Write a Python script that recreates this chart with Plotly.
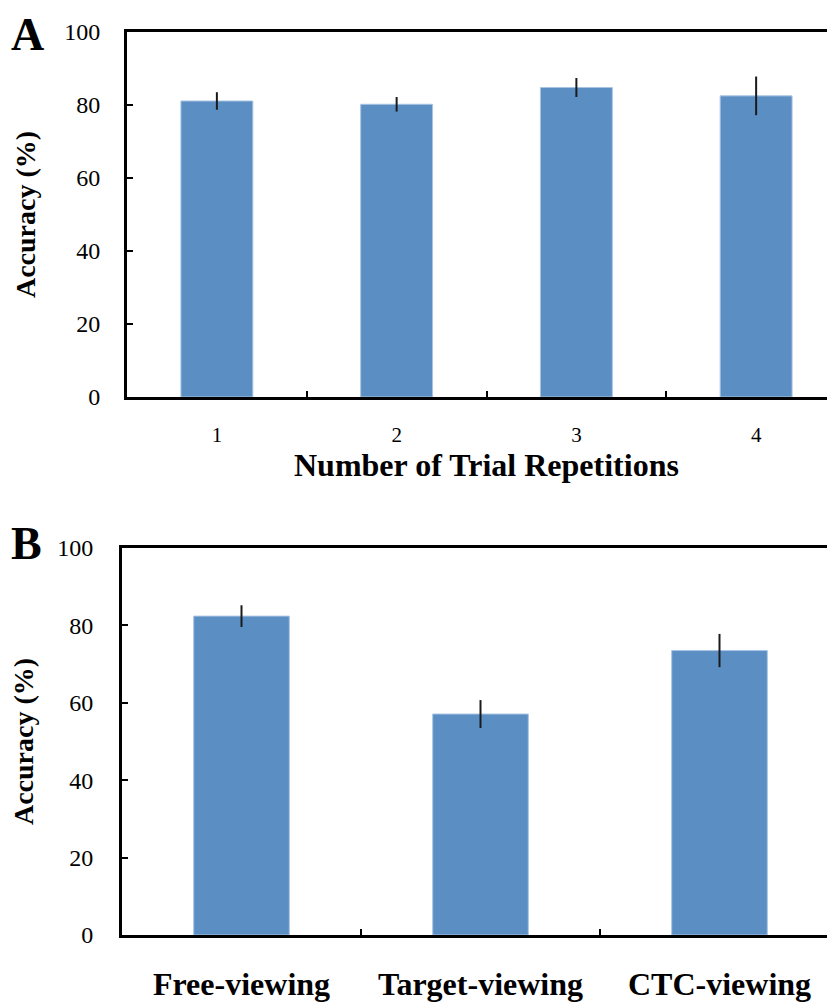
import plotly.graph_objects as go

# Panel A data
reps = ["1", "2", "3", "4"]
acc_a = [81.1, 80.2, 84.8, 82.5]
err_a = [2.4, 2.0, 2.6, 5.3]

# Panel B data
conds = ["Free-viewing", "Target-viewing", "CTC-viewing"]
acc_b = [82.4, 57.1, 73.5]
err_b = [2.8, 3.6, 4.3]

PAGE_W, PAGE_H = 835, 1002
OFF = 8  # default body margin of the html page
W, H = PAGE_W - OFF, PAGE_H - OFF
BAR = "#5b8fc4"
FONT = "Liberation Serif"

fig = go.Figure()
fig.add_trace(go.Bar(
    x=reps, y=acc_a, width=0.4, marker=dict(color=BAR, line=dict(color="#a9c4e2", width=1)),
    error_y=dict(type="data", array=err_a, color="#1a1a1a", thickness=2, width=0),
    xaxis="x", yaxis="y", showlegend=False))
fig.add_trace(go.Bar(
    x=conds, y=acc_b, width=0.4, marker=dict(color=BAR, line=dict(color="#a9c4e2", width=1)),
    error_y=dict(type="data", array=err_b, color="#1a1a1a", thickness=2, width=0),
    xaxis="x2", yaxis="y2", showlegend=False))

def px_x(p):
    return (p - OFF) / W

def px_y(p):
    return 1 - (p - OFF) / H

axis_common = dict(showgrid=False, zeroline=False, showline=True, linecolor="black",
                   linewidth=3, ticks="inside", ticklen=6, tickwidth=2, tickcolor="black",
                   automargin=False)

# Panel A: 4 categories span 127..846 px on the page; the page cuts at 835
a_left, a_right_full = 127, 846
a_span = (a_right_full - a_left) / 4
a_max = -0.5 + (PAGE_W - a_left) / a_span
fig.update_layout(
    xaxis=dict(domain=[px_x(a_left), 1], anchor="y", type="category",
               range=[-0.5, a_max], tickson="boundaries", mirror=True,
               tickfont=dict(family=FONT, size=21, color="black"),
               ticklabelstandoff=17,
               **axis_common),
    yaxis=dict(domain=[px_y(397), px_y(32)], anchor="x", range=[0, 100],
               tickvals=[0, 20, 40, 60, 80, 100],
               tickfont=dict(family=FONT, size=24, color="black"),
               ticklabelstandoff=19,
               title=dict(text="<b>Accuracy (%)</b>",
                          font=dict(family=FONT, size=28, color="black"), standoff=21),
               **axis_common),
)

b_left, b_right_full = 122, 839
b_span = (b_right_full - b_left) / 3
b_max = -0.5 + (PAGE_W - b_left) / b_span
fig.update_layout(
    xaxis2=dict(domain=[px_x(b_left), 1], anchor="y2", type="category",
                range=[-0.5, b_max], tickson="boundaries", mirror=True,
                tickfont=dict(family=FONT, size=32, color="black", weight="bold"),
                ticklabelstandoff=19,
                **axis_common),
    yaxis2=dict(domain=[px_y(935), px_y(548)], anchor="x2", range=[0, 100],
                tickvals=[0, 20, 40, 60, 80, 100],
                tickfont=dict(family=FONT, size=24, color="black"),
                ticklabelstandoff=21,
                title=dict(text="<b>Accuracy (%)</b>",
                           font=dict(family=FONT, size=28, color="black"), standoff=19),
                **axis_common),
)

# x-axis title of panel A, centred on the full category span
fig.add_annotation(text="<b>Number of Trial Repetitions</b>",
                   x=px_x((a_left + a_right_full) / 2), y=px_y(446),
                   xref="paper", yref="paper", xanchor="center", yanchor="top",
                   showarrow=False, borderpad=0,
                   font=dict(family=FONT, size=32, color="black"))

fig.add_annotation(text="<b>A</b>", x=px_x(10), y=px_y(8), xref="paper", yref="paper",
                   xanchor="left", yanchor="top", showarrow=False, borderpad=0,
                   font=dict(family=FONT, size=46, color="black"))
fig.add_annotation(text="<b>B</b>", x=px_x(10), y=px_y(517), xref="paper", yref="paper",
                   xanchor="left", yanchor="top", showarrow=False, borderpad=0,
                   font=dict(family=FONT, size=46, color="black"))

fig.update_layout(width=W, height=H, margin=dict(l=0, r=0, t=0, b=0, autoexpand=False),
                  paper_bgcolor="white", plot_bgcolor="white", bargap=0.6)

fig.write_html("out.html")
